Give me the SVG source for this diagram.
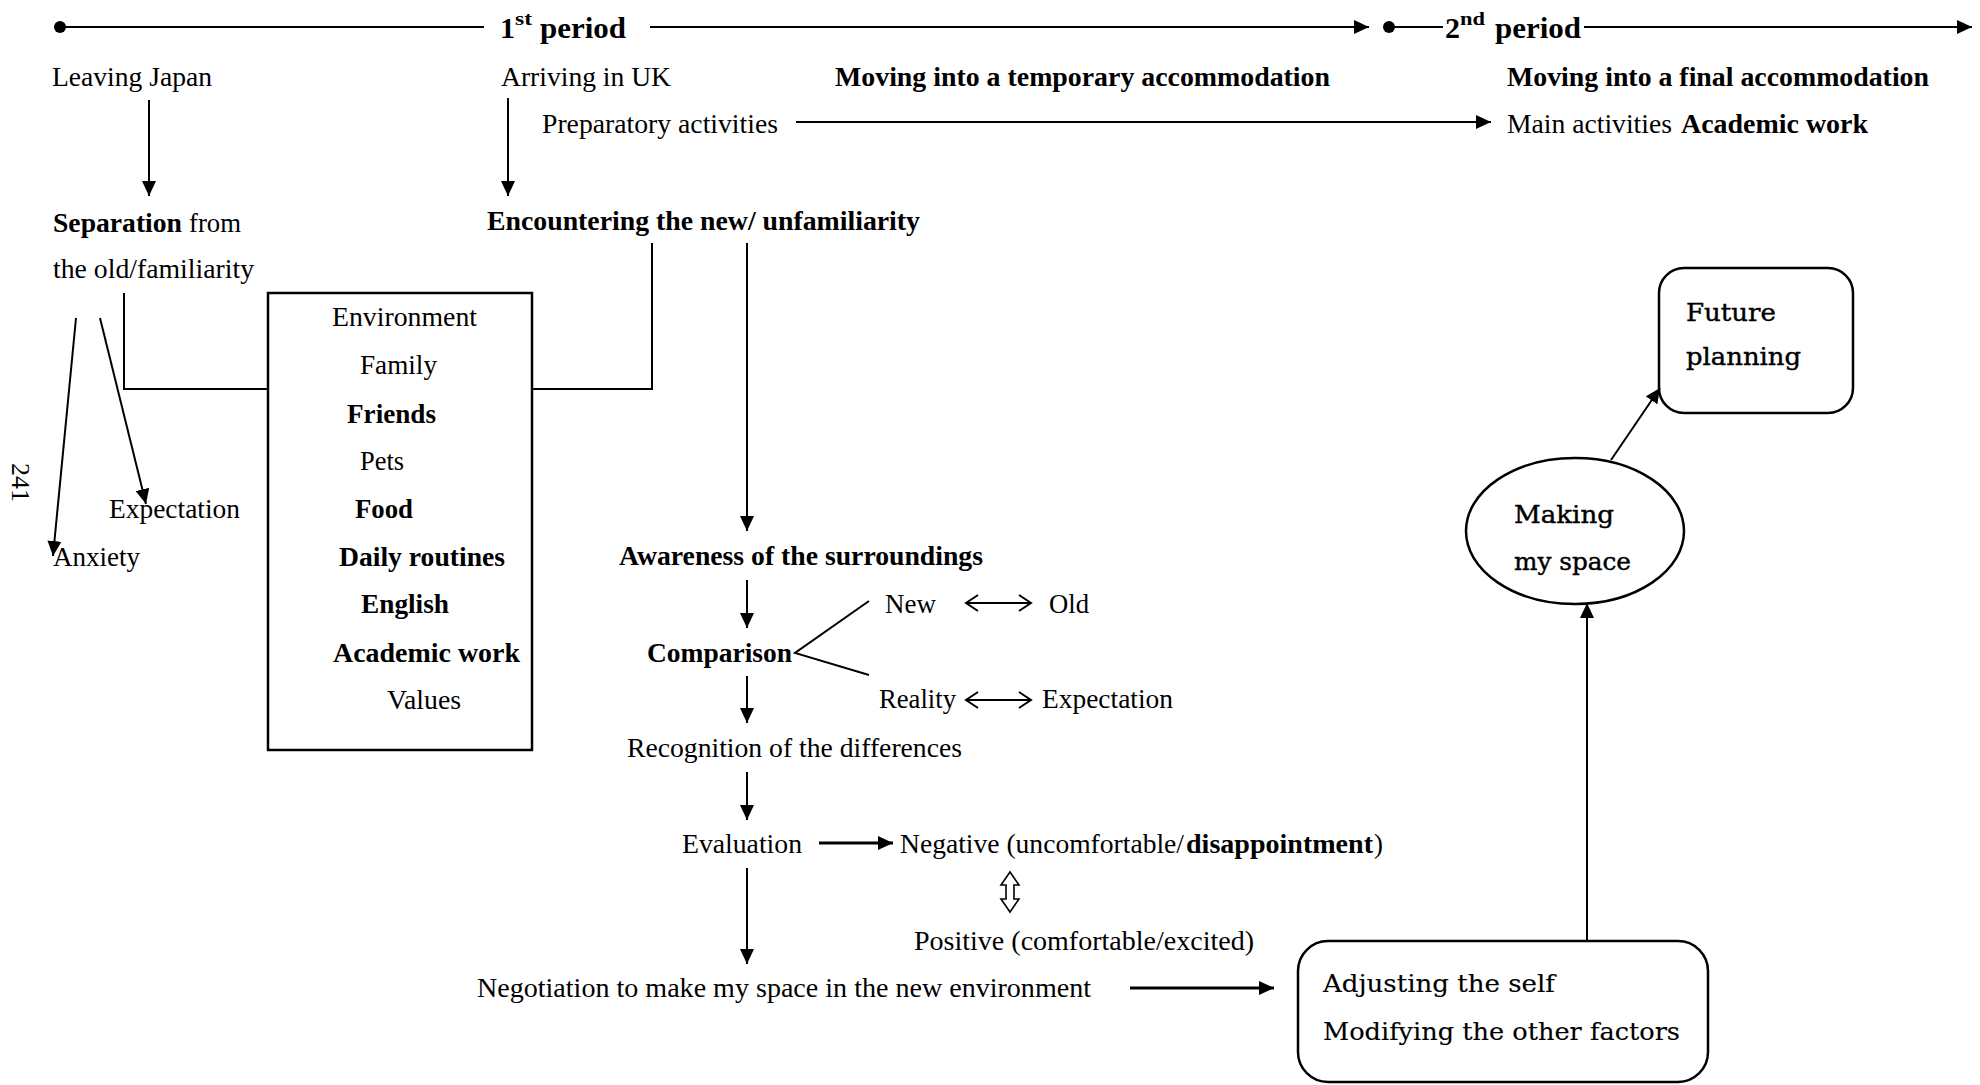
<svg xmlns="http://www.w3.org/2000/svg" width="1980" height="1085" viewBox="0 0 1980 1085">
<style>
text{font-family:"Liberation Serif","Times New Roman",serif;fill:#000;font-size:27px}
.b{font-weight:bold}
.h{font-weight:bold;font-size:30px}
.sup{font-weight:bold;font-size:19px}
.pg{font-size:26px}
.c{font-family:"DejaVu Serif","Liberation Serif",serif;font-size:24px;stroke:#000;stroke-width:0.4}
.c2{font-family:"DejaVu Serif","Liberation Serif",serif;font-size:24px;stroke:#000;stroke-width:0.15}
.ln{stroke:#000;stroke-width:2;fill:none}
.thick{stroke:#000;stroke-width:3.2;fill:none}
.box{stroke:#000;stroke-width:2.5;fill:none}
</style>
<defs>
<marker id="ah" markerUnits="userSpaceOnUse" markerWidth="16" markerHeight="14" refX="15" refY="7" orient="auto">
<path d="M0,0 L15,7 L0,14 z" fill="#000"/>
</marker>
</defs>
<rect width="1980" height="1085" fill="#fff"/>

<g id="timeline">
<circle cx="60" cy="27" r="6" fill="#000"/>
<line class="ln" x1="60" y1="27" x2="484" y2="27"/>
<text x="500" y="38" class="h">1</text>
<text x="515" y="25" class="sup" textLength="17" lengthAdjust="spacingAndGlyphs">st</text>
<text x="540" y="38" class="h" textLength="86" lengthAdjust="spacingAndGlyphs">period</text>
<line class="ln" x1="650" y1="27" x2="1369" y2="27" marker-end="url(#ah)"/>
<circle cx="1389" cy="27" r="6" fill="#000"/>
<line class="ln" x1="1389" y1="27" x2="1443" y2="27"/>
<text x="1445" y="38" class="h">2</text>
<text x="1460" y="25" class="sup" textLength="25" lengthAdjust="spacingAndGlyphs">nd</text>
<text x="1495" y="38" class="h" textLength="86" lengthAdjust="spacingAndGlyphs">period</text>
<line class="ln" x1="1584" y1="27" x2="1972" y2="27" marker-end="url(#ah)"/>
</g>

<g id="leaving-japan"><text x="52" y="86" textLength="160" lengthAdjust="spacingAndGlyphs">Leaving Japan</text></g>
<g id="arriving-uk"><text x="501" y="86" textLength="170" lengthAdjust="spacingAndGlyphs">Arriving in UK</text></g>
<g id="temp-accommodation"><text x="835" y="86" class="b" textLength="495" lengthAdjust="spacingAndGlyphs">Moving into a temporary accommodation</text></g>
<g id="final-accommodation"><text x="1507" y="86" class="b" textLength="422" lengthAdjust="spacingAndGlyphs">Moving into a final accommodation</text></g>
<g id="preparatory"><text x="542" y="133" textLength="236" lengthAdjust="spacingAndGlyphs">Preparatory activities</text></g>
<g id="main-activities">
<text x="1507" y="133" textLength="165" lengthAdjust="spacingAndGlyphs">Main activities</text>
<text x="1681" y="133" class="b" textLength="187" lengthAdjust="spacingAndGlyphs">Academic work</text>
</g>

<g id="separation">
<text x="53" y="232" class="b" textLength="129" lengthAdjust="spacingAndGlyphs">Separation</text>
<text x="189" y="232" textLength="52" lengthAdjust="spacingAndGlyphs">from</text>
<text x="53" y="278" textLength="201" lengthAdjust="spacingAndGlyphs">the old/familiarity</text>
</g>
<g id="encountering"><text x="487" y="230" class="b" textLength="433" lengthAdjust="spacingAndGlyphs">Encountering the new/ unfamiliarity</text></g>

<g id="expectation-left"><text x="109" y="518" textLength="131" lengthAdjust="spacingAndGlyphs">Expectation</text></g>
<g id="anxiety"><text x="53" y="566" textLength="87" lengthAdjust="spacingAndGlyphs">Anxiety</text></g>
<g id="page-number"><text transform="translate(12,463) rotate(90)" class="pg">241</text></g>

<g id="factors-box">
<rect class="box" x="268" y="293" width="264" height="457"/>
<text x="332" y="326" textLength="145" lengthAdjust="spacingAndGlyphs">Environment</text>
<text x="360" y="374" textLength="77" lengthAdjust="spacingAndGlyphs">Family</text>
<text x="347" y="423" class="b" textLength="89" lengthAdjust="spacingAndGlyphs">Friends</text>
<text x="360" y="470" textLength="44" lengthAdjust="spacingAndGlyphs">Pets</text>
<text x="355" y="518" class="b" textLength="58" lengthAdjust="spacingAndGlyphs">Food</text>
<text x="339" y="566" class="b" textLength="166" lengthAdjust="spacingAndGlyphs">Daily routines</text>
<text x="361" y="613" class="b" textLength="88" lengthAdjust="spacingAndGlyphs">English</text>
<text x="333" y="662" class="b" textLength="187" lengthAdjust="spacingAndGlyphs">Academic work</text>
<text x="387" y="709" textLength="74" lengthAdjust="spacingAndGlyphs">Values</text>
</g>

<g id="awareness"><text x="619" y="565" class="b" textLength="364" lengthAdjust="spacingAndGlyphs">Awareness of the surroundings</text></g>
<g id="comparison"><text x="647" y="662" class="b" textLength="145" lengthAdjust="spacingAndGlyphs">Comparison</text></g>
<g id="new-old">
<text x="885" y="613" textLength="51" lengthAdjust="spacingAndGlyphs">New</text>
<text x="1049" y="613" textLength="40" lengthAdjust="spacingAndGlyphs">Old</text>
</g>
<g id="reality-expectation">
<text x="879" y="708" textLength="77" lengthAdjust="spacingAndGlyphs">Reality</text>
<text x="1042" y="708" textLength="131" lengthAdjust="spacingAndGlyphs">Expectation</text>
</g>
<g id="recognition"><text x="627" y="757" textLength="335" lengthAdjust="spacingAndGlyphs">Recognition of the differences</text></g>
<g id="evaluation"><text x="682" y="853" textLength="120" lengthAdjust="spacingAndGlyphs">Evaluation</text></g>
<g id="negative">
<text x="900" y="853" textLength="284" lengthAdjust="spacingAndGlyphs">Negative (uncomfortable/</text>
<text x="1186" y="853" class="b" textLength="187" lengthAdjust="spacingAndGlyphs">disappointment</text>
<text x="1374" y="853">)</text>
</g>
<g id="positive"><text x="914" y="950" textLength="340" lengthAdjust="spacingAndGlyphs">Positive (comfortable/excited)</text></g>
<g id="negotiation"><text x="477" y="997" textLength="614" lengthAdjust="spacingAndGlyphs">Negotiation to make my space in the new environment</text></g>

<g id="adjusting-box">
<rect class="box" x="1298" y="941" width="410" height="141" rx="30"/>
<text x="1323" y="992" class="c2" textLength="232" lengthAdjust="spacingAndGlyphs">Adjusting the self</text>
<text x="1323" y="1040" class="c2" textLength="357" lengthAdjust="spacingAndGlyphs">Modifying the other factors</text>
</g>
<g id="making-space">
<ellipse class="box" cx="1575" cy="531" rx="109" ry="73"/>
<text x="1514" y="523" class="c" textLength="100" lengthAdjust="spacingAndGlyphs">Making</text>
<text x="1514" y="570" class="c" textLength="117" lengthAdjust="spacingAndGlyphs">my space</text>
</g>
<g id="future-planning">
<rect class="box" x="1659" y="268" width="194" height="145" rx="25"/>
<text x="1686" y="321" class="c" textLength="90" lengthAdjust="spacingAndGlyphs">Future</text>
<text x="1686" y="365" class="c" textLength="115" lengthAdjust="spacingAndGlyphs">planning</text>
</g>

<g id="connectors">
<line class="ln" x1="149" y1="100" x2="149" y2="196" marker-end="url(#ah)"/>
<line class="ln" x1="508" y1="98" x2="508" y2="196" marker-end="url(#ah)"/>
<line class="ln" x1="796" y1="122" x2="1491" y2="122" marker-end="url(#ah)"/>
<polyline class="ln" points="124,293 124,389 268,389"/>
<polyline class="ln" points="532,389 652,389 652,243"/>
<line class="ln" x1="76" y1="318" x2="53" y2="556" marker-end="url(#ah)"/>
<line class="ln" x1="100" y1="318" x2="146" y2="504" marker-end="url(#ah)"/>
<line class="ln" x1="747" y1="243" x2="747" y2="531" marker-end="url(#ah)"/>
<line class="ln" x1="747" y1="580" x2="747" y2="628" marker-end="url(#ah)"/>
<polyline class="ln" points="869,601 795,653 869,675"/>
<g class="ln">
<line x1="966" y1="603" x2="1031" y2="603"/>
<polyline points="978,595 966,603 978,611"/>
<polyline points="1019,595 1031,603 1019,611"/>
<line x1="966" y1="700" x2="1031" y2="700"/>
<polyline points="978,692 966,700 978,708"/>
<polyline points="1019,692 1031,700 1019,708"/>
</g>
<line class="ln" x1="747" y1="676" x2="747" y2="723" marker-end="url(#ah)"/>
<line class="ln" x1="747" y1="772" x2="747" y2="820" marker-end="url(#ah)"/>
<line class="thick" x1="819" y1="843" x2="893" y2="843" marker-end="url(#ah)"/>
<polygon points="1010,872 1001,885 1006,885 1006,899 1001,899 1010,912 1019,899 1014,899 1014,885 1019,885" fill="#fff" stroke="#000" stroke-width="1.6"/>
<line class="ln" x1="747" y1="868" x2="747" y2="964" marker-end="url(#ah)"/>
<line class="thick" x1="1130" y1="988" x2="1274" y2="988" marker-end="url(#ah)"/>
<line class="ln" x1="1587" y1="941" x2="1587" y2="603" marker-end="url(#ah)"/>
<line class="ln" x1="1611" y1="460" x2="1660" y2="388" marker-end="url(#ah)"/>
</g>
</svg>
